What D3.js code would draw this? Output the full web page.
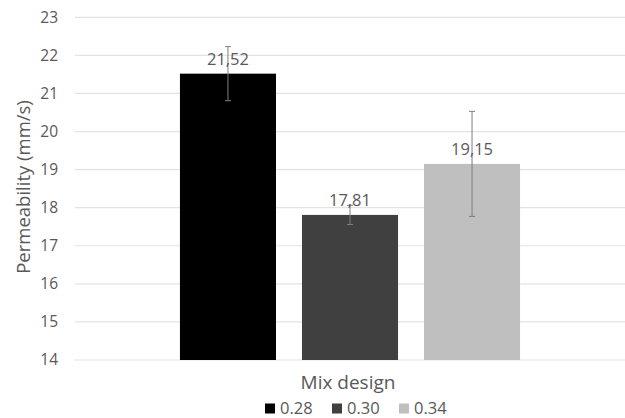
<!DOCTYPE html>
<html><head><meta charset="utf-8">
<script src="https://cdn.jsdelivr.net/npm/d3@7"></script>
<style>
html,body{margin:0;padding:0;background:#fff;}
svg text{font-family:"Open Sans",sans-serif;fill:#595959;}
</style></head>
<body>
<svg id="chart" width="625" height="418"></svg>
<script>
const categories = ["0.28", "0.30", "0.34"];
const values = [21.52, 17.81, 19.15];
const errors = [0.71, 0.25, 1.38];
const labels = ["21,52", "17,81", "19,15"];
const colors = ["#000000", "#404040", "#bfbfbf"];
const yTicks = [14, 15, 16, 17, 18, 19, 20, 21, 22, 23];

(function () {
const svg = d3.select("#chart");
const mLeft = 75, mRight = 625, mTop = 17.3, mBottom = 360;

const x = d3.scaleBand().domain(categories).range([mLeft, mRight])
  .paddingInner(0.213).paddingOuter(0.86);
const y = d3.scaleLinear().domain([14, 23]).range([mBottom, mTop]);

// gridlines
svg.append("g").selectAll("line").data(yTicks).join("line")
  .attr("x1", mLeft).attr("x2", mRight)
  .attr("y1", d => y(d)).attr("y2", d => y(d))
  .attr("stroke", "#e3e3e3").attr("stroke-width", 1.2);

// y axis labels
const yAxis = d3.axisLeft(y).tickValues(yTicks).tickSize(0).tickPadding(0).tickFormat(d3.format("d"));
const ya = svg.append("g").attr("transform", `translate(58,0)`).call(yAxis);
ya.select(".domain").remove();
ya.selectAll("text").style("font-size", "15.5px").style("font-family", "Open Sans").attr("fill", "#595959");

// bars
svg.append("g").selectAll("rect").data(categories).join("rect")
  .attr("x", d => x(d)).attr("width", x.bandwidth())
  .attr("y", (d, i) => y(values[i]))
  .attr("height", (d, i) => y(14) - y(values[i]))
  .attr("fill", (d, i) => colors[i]);

// error bars
const eg = svg.append("g").attr("stroke", "#7f7f7f").attr("stroke-width", 1);
categories.forEach((c, i) => {
  const cx = x(c) + x.bandwidth() / 2;
  eg.append("line").attr("x1", cx).attr("x2", cx)
    .attr("y1", y(values[i] + errors[i])).attr("y2", y(values[i] - errors[i]));
  [values[i] + errors[i], values[i] - errors[i]].forEach(v => {
    eg.append("line").attr("x1", cx - 3).attr("x2", cx + 3)
      .attr("y1", y(v)).attr("y2", y(v));
  });
});

// value labels
svg.append("g").selectAll("text").data(categories).join("text")
  .attr("x", d => x(d) + x.bandwidth() / 2)
  .attr("y", (d, i) => y(values[i]) - 9)
  .attr("text-anchor", "middle")
  .style("font-size", "16.5px").attr("fill", "#404040")
  .text((d, i) => labels[i]);

// y title
svg.append("text")
  .attr("transform", "translate(30,187) rotate(-90)")
  .attr("text-anchor", "middle")
  .style("font-size", "18.5px")
  .text("Permeability (mm/s)");

// x title
svg.append("text")
  .attr("x", 348).attr("y", 389)
  .attr("text-anchor", "middle")
  .style("font-size", "19px")
  .text("Mix design");

// legend
const legX = [265, 332, 399];
const lg = svg.append("g");
categories.forEach((c, i) => {
  lg.append("rect").attr("x", legX[i]).attr("y", 403.5).attr("width", 10).attr("height", 10).attr("fill", colors[i]);
  lg.append("text").attr("x", legX[i] + 15).attr("y", 414)
    .style("font-size", "16.5px").text(c);
});
})();
</script>
</body></html>
